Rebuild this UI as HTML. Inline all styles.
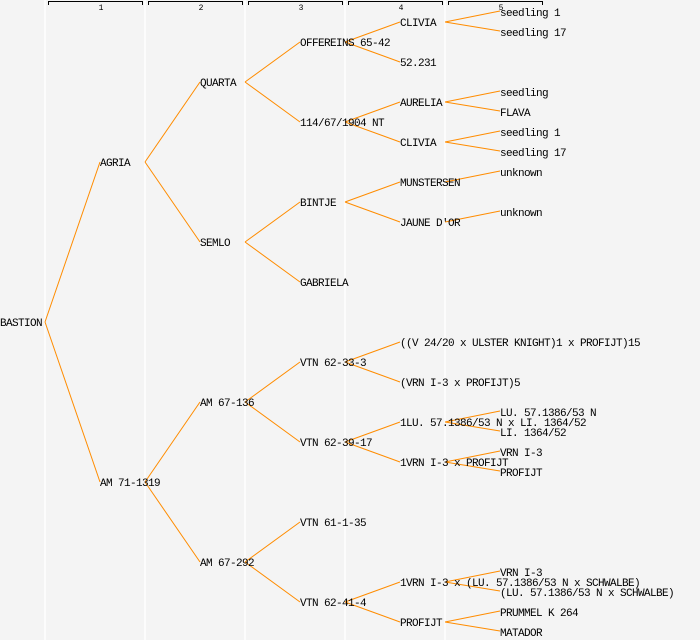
<!DOCTYPE html>
<html><head><meta charset="utf-8"><style>
html,body{margin:0;padding:0;background:#f4f4f4}
svg{display:block}
text{font-family:"Liberation Mono","DejaVu Sans Mono",monospace;font-size:11px;letter-spacing:-0.6px;fill:#000}
text.h{font-size:8px;letter-spacing:0}
</style></head><body>
<svg width="700" height="640" viewBox="0 0 700 640">
<rect width="700" height="640" fill="#f4f4f4"/>
<g stroke="#fff" stroke-width="1.5">
<line x1="45" y1="0" x2="45" y2="640"/><line x1="145" y1="0" x2="145" y2="640"/>
<line x1="245" y1="0" x2="245" y2="640"/><line x1="345" y1="0" x2="345" y2="640"/>
<line x1="445" y1="0" x2="445" y2="640"/>
</g>
<g stroke="#000" stroke-width="1" fill="none">
<path d="M48.5 5V1.5H142.5V5"/><path d="M148.5 5V1.5H242.5V5"/><path d="M248.5 5V1.5H342.5V5"/><path d="M348.5 5V1.5H442.5V5"/><path d="M448.5 5V1.5H542.5V5"/>
</g>
<g text-anchor="middle">
<text class="h" x="101" y="10">1</text><text class="h" x="201" y="10">2</text><text class="h" x="301" y="10">3</text><text class="h" x="401" y="10">4</text><text class="h" x="501" y="10">5</text>
</g>
<g stroke="#ff8c00" stroke-width="1" fill="none">
<path d="M45 322L100 162M45 322L100 482"/>
<path d="M145 162L200 82M145 162L200 242M145 482L200 402M145 482L200 562"/>
<path d="M245 82L300 42M245 82L300 122M245 242L300 202M245 242L300 282M245 402L300 362M245 402L300 442M245 562L300 522M245 562L300 602"/>
<path d="M345 42L400 22M345 42L400 62M345 122L400 102M345 122L400 142M345 202L400 182M345 202L400 222M345 362L400 342M345 362L400 382M345 442L400 422M345 442L400 462M345 602L400 582M345 602L400 622"/>
<path d="M445 22L500 11M445 22L500 31M445 102L500 91M445 102L500 111M445 142L500 131M445 142L500 151M445 182L500 171M445 222L500 211M445 422L500 411M445 422L500 431M445 462L500 451M445 462L500 471M445 582L500 571M445 582L500 591M445 622L500 611M445 622L500 631"/>
</g>
<g>
<text x="0" y="326">BASTION</text>
<text x="100" y="166">AGRIA</text><text x="100" y="486">AM 71-1319</text>
<text x="200" y="86">QUARTA</text><text x="200" y="246">SEMLO</text><text x="200" y="406">AM 67-136</text><text x="200" y="566">AM 67-292</text>
<text x="300" y="46">OFFEREINS 65-42</text><text x="300" y="126">114/67/1904 NT</text><text x="300" y="206">BINTJE</text><text x="300" y="286">GABRIELA</text>
<text x="300" y="366">VTN 62-33-3</text><text x="300" y="446">VTN 62-39-17</text><text x="300" y="526">VTN 61-1-35</text><text x="300" y="606">VTN 62-41-4</text>
<text x="400" y="26">CLIVIA</text><text x="400" y="66">52.231</text><text x="400" y="106">AURELIA</text><text x="400" y="146">CLIVIA</text>
<text x="400" y="186">MUNSTERSEN</text><text x="400" y="226">JAUNE D'OR</text>
<text x="400" y="346">((V 24/20 x ULSTER KNIGHT)1 x PROFIJT)15</text><text x="400" y="386">(VRN I-3 x PROFIJT)5</text>
<text x="400" y="426">1LU. 57.1386/53 N x LI. 1364/52</text><text x="400" y="466">1VRN I-3 x PROFIJT</text>
<text x="400" y="586">1VRN I-3 x (LU. 57.1386/53 N x SCHWALBE)</text><text x="400" y="626">PROFIJT</text>
<text x="500" y="16">seedling 1</text><text x="500" y="36">seedling 17</text>
<text x="500" y="96">seedling</text><text x="500" y="116">FLAVA</text>
<text x="500" y="136">seedling 1</text><text x="500" y="156">seedling 17</text>
<text x="500" y="176">unknown</text><text x="500" y="216">unknown</text>
<text x="500" y="416">LU. 57.1386/53 N</text><text x="500" y="436">LI. 1364/52</text>
<text x="500" y="456">VRN I-3</text><text x="500" y="476">PROFIJT</text>
<text x="500" y="576">VRN I-3</text><text x="500" y="596">(LU. 57.1386/53 N x SCHWALBE)</text>
<text x="500" y="616">PRUMMEL K 264</text><text x="500" y="636">MATADOR</text>
</g>
</svg>
</body></html>
